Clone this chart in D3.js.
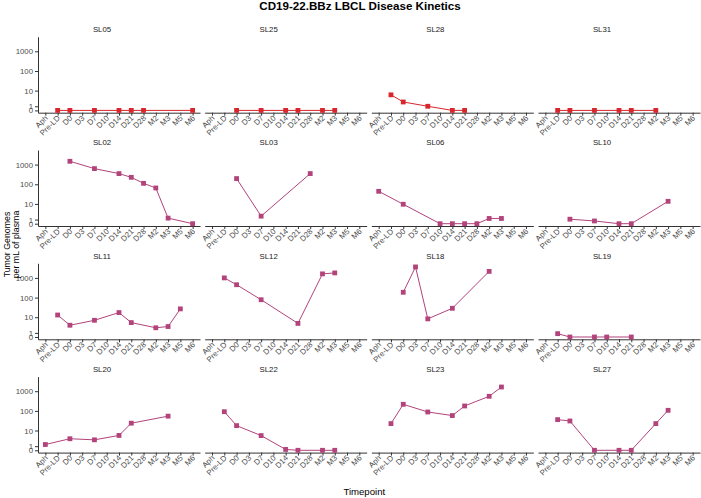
<!DOCTYPE html>
<html>
<head>
<meta charset="utf-8">
<script src="https://cdn.jsdelivr.net/npm/d3@7"></script>
<style>
  body { margin: 0; background: #fff; }
  text { font-family: "Liberation Sans", Arial, sans-serif; }
</style>
</head>
<body>
<div id="chart"></div>
<script>
// timepoints on the x axis
var timepoints = ["Aph", "Pre-LD", "D0", "D3", "D7", "D10", "D14", "D21", "D28", "M2", "M3", "M5", "M6"];
// panels, in facet order
var patients = ["SL05", "SL25", "SL28", "SL31", "SL02", "SL03", "SL06", "SL10",
                "SL11", "SL12", "SL18", "SL19", "SL20", "SL22", "SL23", "SL27"];
// group of each patient (first row drawn in red)
var groups = ["a", "a", "a", "a", "b", "b", "b", "b", "b", "b", "b", "b", "b", "b", "b", "b"];
var yTicks = [0, 1, 10, 100, 1000];

// tumor genomes per mL, one value per timepoint (null = not measured)
var SL05 = [null, 0, 0, null, 0, null, 0, 0, 0, null, null, null, 0];
var SL25 = [null, null, 0, null, 0, null, 0, 0, null, 0, 0, null, null];
var SL28 = [null, 6, 2.3, null, 1, null, 0, 0, null, null, null, null, null];
var SL31 = [null, 0, 0, null, 0, null, 0, 0, null, 0, null, null, null];
var SL02 = [null, null, 1470, null, 626, null, 349, 226, 112, 65, 1.4, null, 0];
var SL03 = [null, null, 195, null, 2, null, null, null, 350, null, null, null, null];
var SL06 = [44, null, 9.6, null, null, 0, 0, 0, 0, 1.3, 1.3, null, null];
var SL10 = [null, null, 1.1, null, 0.65, null, 0, 0, null, null, 13.6, null, null];
var SL11 = [null, 13, 3.7, null, 6.9, null, 17.3, 5.2, null, 2.6, 3.1, 26.7, null];
var SL12 = [null, 1000, 450, null, 78, null, null, 4.7, null, 1600, 1790, null, null];
var SL18 = [null, null, 186, 3600, 8.2, null, 28.6, null, null, 2140, null, null, null];
var SL19 = [null, 0.8, 0, null, 0, 0, null, 0, null, null, null, null, null];
var SL20 = [1.46, null, 3.6, null, 3.1, null, 5.5, 23.7, null, null, 54, null, null];
var SL22 = [null, 91, 17.8, null, 5.4, null, 0.2, 0, null, 0, 0, null, null];
var SL23 = [null, 22.6, 216, null, 88, null, 58, 178, null, 550, 1630, null, null];
var SL27 = [null, 36, 30.7, null, 0, null, 0, 0, null, 22.6, 107, null, null];

var series = [SL05, SL25, SL28, SL31, SL02, SL03, SL06, SL10,
              SL11, SL12, SL18, SL19, SL20, SL22, SL23, SL27];

var width = 701, height = 498;
var marginLeft = 38, marginTop = 36.7;
var panelW = 162, panelH = 76;
var colStep = 166.67, rowStep = 113.3;
var ncol = 4;

var color = d3.scaleOrdinal().domain(["a", "b"]).range(["#d7262c", "#b2437b"]);

var x = d3.scalePoint().domain(timepoints).range([0, panelW]).padding(0.6);

// pseudo-log (asinh) transform, as in the original plot
var tf = function(v) { return Math.asinh(v / 2) / Math.LN10; };
var yLin = d3.scaleLinear().domain([-0.117, 3.741]).range([panelH, 0]);
var y = function(v) { return yLin(tf(v)); };

var svg = d3.select("#chart").append("svg")
  .attr("width", width)
  .attr("height", height);

svg.append("text")
  .attr("x", 360).attr("y", 9.5)
  .attr("text-anchor", "middle")
  .attr("font-size", 11.6)
  .attr("font-weight", "bold")
  .attr("fill", "#000")
  .text("CD19-22.BBz LBCL Disease Kinetics");

var line = d3.line()
  .x(function(d) { return x(d.t); })
  .y(function(d) { return y(d.v); });

patients.forEach(function(p, i) {
  var col = i % ncol, row = Math.floor(i / ncol);
  var g = svg.append("g")
    .attr("transform", "translate(" + (marginLeft + col * colStep) + "," + (marginTop + row * rowStep) + ")");

  var pts = [];
  series[i].forEach(function(v, j) {
    if (v !== null) pts.push({t: timepoints[j], v: v});
  });

  // strip label
  g.append("text")
    .attr("x", panelW / 2 - 17).attr("y", -4.7)
    .attr("text-anchor", "middle")
    .attr("font-size", 7.8)
    .attr("fill", "#1a1a1a")
    .text(p);

  // x axis
  var xa = g.append("g").attr("transform", "translate(0," + panelH + ")")
    .call(d3.axisBottom(x).tickSize(3).tickSizeOuter(0));
  xa.select(".domain").attr("stroke", "#333").attr("stroke-width", 1);
  xa.selectAll(".tick line").attr("stroke", "#333");
  xa.selectAll(".tick text")
    .attr("font-size", 7.8)
    .attr("fill", "#4d4d4d")
    .attr("text-anchor", "end")
    .attr("x", 0).attr("y", 0).attr("dy", "0.71em")
    .attr("transform", "translate(-1.5,2) rotate(-45)");

  // y axis only on first column
  if (col === 0) {
    var ya = g.append("g")
      .call(d3.axisLeft(yLin).tickValues(yTicks.map(tf)).tickSize(3).tickSizeOuter(0)
        .tickFormat(function(d, k) { return yTicks[k]; }));
    ya.select(".domain").attr("stroke", "#333").attr("stroke-width", 1);
    ya.selectAll(".tick line").attr("stroke", "#333");
    ya.selectAll(".tick text").attr("font-size", 7.8).attr("fill", "#4d4d4d").attr("x", -5);
  }

  g.append("path")
    .datum(pts)
    .attr("fill", "none")
    .attr("stroke", color(groups[i]))
    .attr("stroke-width", 1)
    .attr("d", line);

  g.selectAll("rect.pt")
    .data(pts)
    .enter()
    .append("rect")
    .attr("class", "pt")
    .attr("x", function(d) { return x(d.t) - 2.4; })
    .attr("y", function(d) { return y(d.v) - 2.4; })
    .attr("width", 4.8)
    .attr("height", 4.8)
    .attr("fill", color(groups[i]));
});

// axis titles
var yt = svg.append("g").attr("transform", "translate(0,244.5) rotate(-90)");
yt.append("text").attr("x", 0).attr("y", 9.5).attr("text-anchor", "middle")
  .attr("font-size", 8.8).attr("fill", "#000").text("Tumor Genomes");
yt.append("text").attr("x", 0).attr("y", 18.5).attr("text-anchor", "middle")
  .attr("font-size", 8.8).attr("fill", "#000").text("per mL of plasma");

svg.append("text")
  .attr("x", 364.3).attr("y", 495)
  .attr("text-anchor", "middle")
  .attr("font-size", 9.6)
  .attr("fill", "#000")
  .text("Timepoint");
</script>
</body>
</html>
